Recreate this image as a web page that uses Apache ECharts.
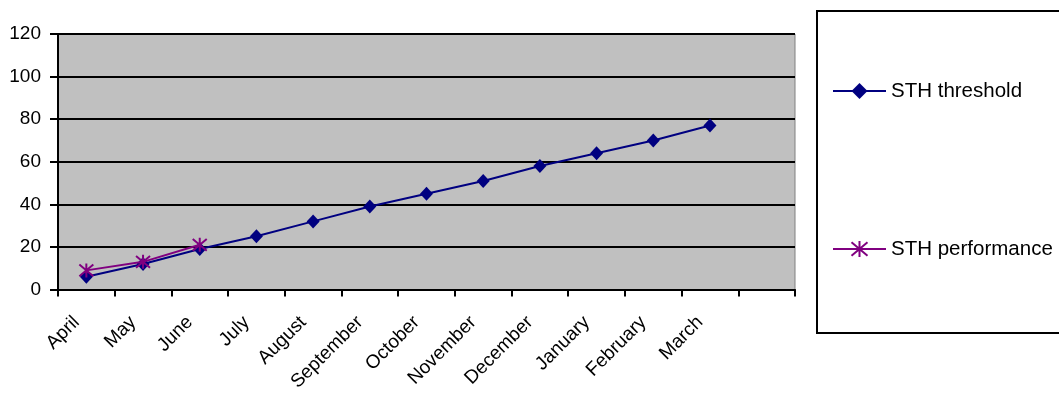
<!DOCTYPE html>
<html>
<head>
<meta charset="utf-8">
<script src="https://cdn.jsdelivr.net/npm/echarts@6/dist/echarts.min.js"></script>
<style>
  html, body { margin: 0; padding: 0; background: #fff; }
  #chart { width: 1059px; height: 394px; }
</style>
</head>
<body>
<div id="chart"></div>
<script>
// Months of the year (April to March), plus one empty trailing slot
const months = ['April', 'May', 'June', 'July', 'August', 'September', 'October',
  'November', 'December', 'January', 'February', 'March', ''];

const thresholdValues = [6, 12, 19, 25, 32, 39, 45, 51, 58, 64, 70, 77];
const performanceValues = [9, 13, 21];

const yTicks = { min: 0, max: 120, step: 20 };

const FONT = '"Liberation Sans", Arial, sans-serif';
const asterisk = 'path://M0,0L10,10M10,0L0,10M5,-1L5,11';

const chart = echarts.init(document.getElementById('chart'), null, { renderer: 'canvas' });

chart.setOption({
  backgroundColor: '#ffffff',
  animation: false,
  textStyle: { fontFamily: FONT },
  grid: {
    left: 58, right: 264, top: 34, bottom: 104,
    show: true,
    backgroundColor: '#c0c0c0',
    borderColor: '#808080',
    borderWidth: 1
  },
  graphic: [{
    type: 'rect',
    left: 816, top: 10, z: -1,
    shape: { width: 260, height: 322 },
    style: { fill: '#ffffff', stroke: '#000000', lineWidth: 2 }
  }],
  legend: {
    orient: 'vertical',
    left: 832, top: 80,
    padding: 0,
    itemWidth: 53, itemHeight: 20,
    itemGap: 136,
    textStyle: { fontFamily: FONT, fontSize: 20.5, color: '#000', lineHeight: 22 },
    data: ['STH threshold', 'STH performance']
  },
  xAxis: {
    type: 'category',
    data: months,
    boundaryGap: true,
    axisLine: { lineStyle: { color: '#000', width: 2 } },
    axisTick: { show: true, interval: 0, length: 7, lineStyle: { color: '#000', width: 2 } },
    axisLabel: {
      interval: 0, rotate: 45, margin: 20, padding: [0, 14, 0, 0],
      fontFamily: FONT, fontSize: 19, color: '#000'
    },
    splitLine: { show: false }
  },
  yAxis: {
    type: 'value',
    min: yTicks.min, max: yTicks.max, interval: yTicks.step,
    axisLine: { show: true, lineStyle: { color: '#000', width: 2 } },
    axisTick: { show: true, length: 8, lineStyle: { color: '#000', width: 2 } },
    axisLabel: { margin: 17, fontFamily: FONT, fontSize: 19, color: '#000' },
    splitLine: { show: true, lineStyle: { color: '#000', width: 2 } }
  },
  series: [
    {
      name: 'STH threshold',
      type: 'line',
      data: thresholdValues,
      symbol: 'diamond',
      symbolSize: [13, 14],
      lineStyle: { color: '#000080', width: 2 },
      itemStyle: { color: '#000080' },
      z: 3
    },
    {
      name: 'STH performance',
      type: 'line',
      data: performanceValues,
      symbol: asterisk,
      symbolSize: 14,
      lineStyle: { color: '#800080', width: 2 },
      itemStyle: { color: 'none', borderColor: '#800080', borderWidth: 2 },
      z: 4
    }
  ]
});
</script>
</body>
</html>
